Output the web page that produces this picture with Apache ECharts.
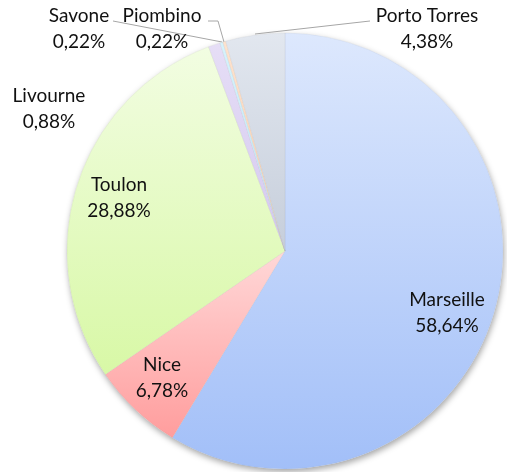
<!DOCTYPE html>
<html><head><meta charset="utf-8">
<script src="https://cdn.jsdelivr.net/npm/echarts@6/dist/echarts.min.js"></script>
<style>html,body{margin:0;padding:0;background:#fff}#c{width:507px;height:472px}</style>
</head><body><div id="c"></div>
<script>
var categories = ['Marseille', 'Nice', 'Toulon', 'Livourne', 'Savone', 'Piombino', 'Porto Torres'];
var values = [58.64, 6.78, 28.88, 0.88, 0.22, 0.22, 4.38];
var valueLabels = ['58,64%', '6,78%', '28,88%', '0,88%', '0,22%', '0,22%', '4,38%'];

var colorTop = ['#dde8fd', '#ffd8d8', '#f2fde2', '#e6def6', '#d6f2fc', '#fde3cf', '#e2e7ef'];
var colorBottom = ['#a2bff8', '#ff9d9d', '#d8f8a6', '#d4c8f0', '#bfe9f9', '#fbcfae', '#c6cedb'];

var labelPos = [[447, 313], [162, 378], [119, 198], [49, 109], [79, 29], [162, 29], [427, 29]];
var leaderLines = [null, null, null, null,
  [[113, 21], [222, 42]],
  [[208, 21], [218, 21], [224, 42]],
  [[370, 21], [255, 34]]];

var data = categories.map(function (c, i) {
  return {
    name: c, value: values[i],
    itemStyle: { color: new echarts.graphic.LinearGradient(0, 0, 0, 1, [
      { offset: 0, color: colorTop[i] }, { offset: 1, color: colorBottom[i] }]) }
  };
});

var chart = echarts.init(document.getElementById('c'));
chart.setOption({
  animation: false,
  series: [{
    type: 'pie', silent: true, radius: 218, center: [285, 251],
    data: [{ value: 1, itemStyle: { color: '#fff', shadowBlur: 6, shadowOffsetX: 1, shadowOffsetY: 3, shadowColor: 'rgba(0,0,0,0.35)' } }],
    label: { show: false }, labelLine: { show: false }, z: 1
  }, {
    type: 'pie', radius: 218, center: [285, 251], startAngle: 90, clockwise: true,
    data: data, z: 2, avoidLabelOverlap: false,
    itemStyle: { borderWidth: 0.4, borderColor: 'rgba(150,150,150,0.3)' },
    label: {
      show: true, position: 'outside', overflow: 'none',
      formatter: function (p) { return p.name + '\n' + valueLabels[p.dataIndex]; },
      fontFamily: 'Lato', fontSize: 19, lineHeight: 26, color: '#111', align: 'center'
    },
    labelLine: { show: true, lineStyle: { color: '#a6a6a6', width: 1 } },
    labelLayout: function (p) {
      var i = p.dataIndex;
      var r = { x: labelPos[i][0], y: labelPos[i][1], align: 'center', verticalAlign: 'middle', hideOverlap: false };
      if (leaderLines[i]) r.labelLinePoints = leaderLines[i];
      else r.labelLinePoints = [[0, 0], [0, 0]];
      return r;
    }
  }]
});
</script></body></html>
